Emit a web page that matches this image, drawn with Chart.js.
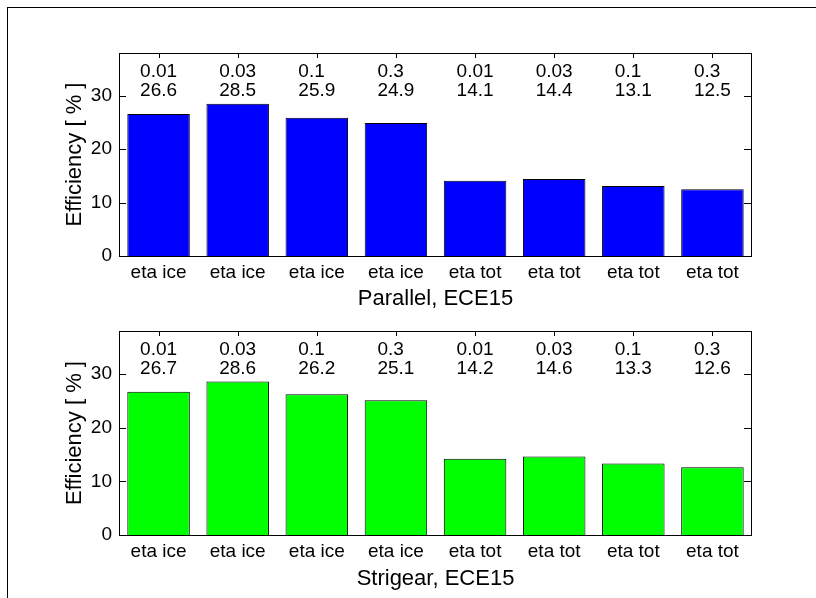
<!DOCTYPE html>
<html>
<head>
<meta charset="utf-8">
<script src="https://cdn.jsdelivr.net/npm/chart.js@4"></script>
<style>
  body { margin: 0; background: #fff; }
  #wrap { position: relative; width: 816px; height: 598px; overflow: hidden; }
  #frame { position: absolute; left: 7px; top: 7px; width: 900px; height: 700px;
           border-top: 1px solid #000; border-left: 1px solid #000; }
  #c1 { position: absolute; left: 0; top: 0; }
  #c2 { position: absolute; left: 0; top: 312px; }
</style>
</head>
<body>
<div id="wrap">
  <div id="frame"></div>
  <canvas id="c1" width="816" height="312"></canvas>
  <canvas id="c2" width="816" height="286"></canvas>
</div>
<script>
// datos
const categories = ['eta ice', 'eta ice', 'eta ice', 'eta ice', 'eta tot', 'eta tot', 'eta tot', 'eta tot'];
const params = ['0.01', '0.03', '0.1', '0.3', '0.01', '0.03', '0.1', '0.3'];
const parallelValues = [26.6, 28.5, 25.9, 24.9, 14.1, 14.4, 13.1, 12.5];
const strigearValues = [26.7, 28.6, 26.2, 25.1, 14.2, 14.6, 13.3, 12.6];
const yTicks = [0, 10, 20, 30];

const FONT = "'Liberation Sans', Arial, sans-serif";

// marco, ticks interiores y etiquetas encima de las barras
const axesPlugin = {
    id: 'matlabAxes',
    afterDraw(chart) {
        const ctx = chart.ctx;
        const a = chart.chartArea;
        const x = chart.scales.x;
        const y = chart.scales.y;
        ctx.save();
        ctx.strokeStyle = '#000';
        ctx.lineWidth = 1;
        ctx.strokeRect(Math.round(a.left) + 0.5, Math.round(a.top) + 0.5,
            Math.round(a.right - a.left) - 1, Math.round(a.bottom - a.top));
        ctx.beginPath();
        yTicks.forEach(v => {
            const py = Math.round(y.getPixelForValue(v)) + 0.5;
            ctx.moveTo(a.left, py); ctx.lineTo(a.left + 7, py);
            ctx.moveTo(a.right, py); ctx.lineTo(a.right - 8, py);
        });
        categories.forEach((c, i) => {
            const px = Math.round(x.getPixelForValue(i)) + 0.5;
            ctx.moveTo(px, a.top); ctx.lineTo(px, a.top + 5);
        });
        ctx.stroke();

        const data = chart.data.datasets[0].data;
        ctx.font = '19px ' + FONT;
        ctx.fillStyle = '#000';
        ctx.textBaseline = 'middle';
        ctx.textAlign = 'left';
        data.forEach((v, i) => {
            const l1 = params[i];
            const l2 = v.toFixed(1);
            const w = Math.max(ctx.measureText(l1).width, ctx.measureText(l2).width);
            const left = x.getPixelForValue(i) - w / 2;
            ctx.fillText(l1, left, a.top + 19);
            ctx.fillText(l2, left, a.top + 38);
        });
        ctx.restore();
    }
};

function makeChart(id, values, color, title, opts) {
    const ctx = document.getElementById(id).getContext('2d');
    return new Chart(ctx, {
        type: 'bar',
        data: {
            labels: categories,
            datasets: [{
                data: values,
                backgroundColor: color,
                borderColor: '#000',
                borderWidth: 1,
                barPercentage: 0.79,
                categoryPercentage: 1.0
            }]
        },
        options: {
            responsive: false,
            animation: false,
            layout: { padding: { left: 62, right: 64, top: opts.top, bottom: 0 } },
            plugins: { legend: { display: false }, tooltip: { enabled: false } },
            scales: {
                x: {
                    grid: { display: false, drawTicks: false },
                    border: { display: false },
                    ticks: { color: '#000', font: { size: 19, family: FONT }, padding: 5, maxRotation: 0, autoSkip: false },
                    title: { display: true, text: title, color: '#000', font: { size: 22, family: FONT },
                             padding: { top: 0, bottom: opts.titlePad } },
                    afterFit: s => { s.height = opts.xh; }
                },
                y: {
                    min: 0, max: 38,
                    grid: { display: false, drawTicks: false },
                    border: { display: false },
                    ticks: { stepSize: 10, color: '#000', font: { size: 19, family: FONT }, padding: 7 },
                    afterBuildTicks: s => { s.ticks = yTicks.map(v => ({ value: v })); },
                    title: { display: true, text: 'Efficiency [ % ]', color: '#000', font: { size: 22, family: FONT },
                             padding: { top: 0, bottom: 0 } },
                    afterFit: s => { s.width = 57; }
                }
            }
        },
        plugins: [axesPlugin]
    });
}

makeChart('c1', parallelValues, '#0000ff', 'Parallel, ECE15', { top: 53, xh: 56, titlePad: 0 });
makeChart('c2', strigearValues, '#00ff00', 'Strigear, ECE15', { top: 19, xh: 63, titlePad: 6 });
</script>
</body>
</html>
